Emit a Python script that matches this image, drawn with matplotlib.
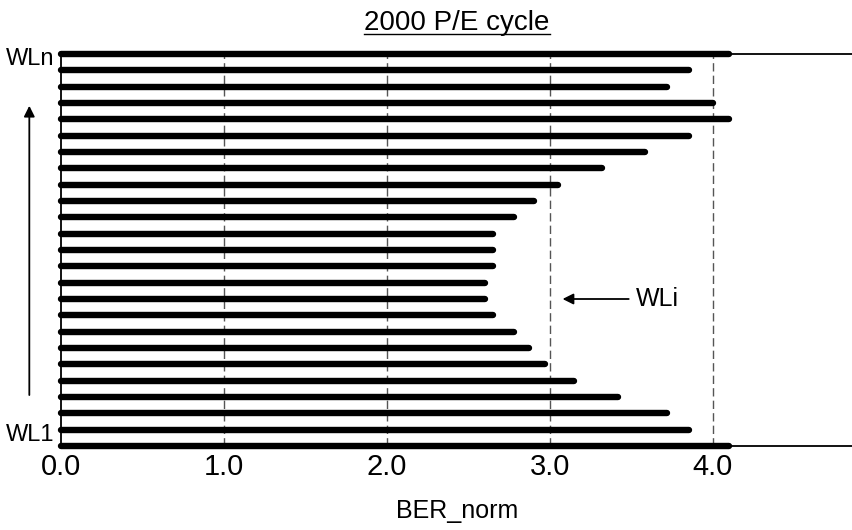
import numpy as np
import matplotlib
matplotlib.use("Agg")
import matplotlib.pyplot as plt
import matplotlib.transforms as mtransforms
from matplotlib.lines import Line2D

plt.rcParams['font.family'] = ['Liberation Sans', 'DejaVu Sans']

# word lines, bottom (WL1) to top (WLn)
wl_index = np.arange(1, 26)
ber_norm = [4.10, 3.85, 3.72, 3.42, 3.15, 2.97, 2.87, 2.78, 2.65, 2.60,
            2.60, 2.65, 2.65, 2.65, 2.78, 2.90, 3.05, 3.32, 3.58, 3.85,
            4.10, 4.00, 3.72, 3.85, 4.10]
x_ticks = [0.0, 1.0, 2.0, 3.0, 4.0]
x_tick_labels = ['0.0', '1.0', '2.0', '3.0', '4.0']
title = '2000 P/E cycle'
xlabel = 'BER_norm'


def main():
    fig = plt.figure(figsize=(8.53, 5.30), dpi=100)
    ax = fig.add_axes([61 / 853, 84 / 530, 792 / 853, 392 / 530])

    # 縦の破線
    for xv in x_ticks[1:]:
        ax.axvline(xv, color='#555555', lw=1.0, ls=(0, (6, 3)), zorder=1)

    # 上下端のバーも太さを保つため clip しない
    ax.hlines(wl_index, 0, ber_norm, color='black', lw=4.6,
              capstyle='round', zorder=3, clip_on=False)

    ax.set_xlim(0, 792 / 163)
    ax.set_ylim(1, 25)
    ax.spines['right'].set_visible(False)
    for s in ['left', 'top', 'bottom']:
        ax.spines[s].set_linewidth(1.3)
        ax.spines[s].set_color('black')

    ax.set_xticks(x_ticks)
    ax.set_xticklabels(x_tick_labels, fontsize=21)
    ax.tick_params(axis='x', length=0, pad=5)
    ax.set_yticks([])
    ax.set_xlabel(xlabel, fontsize=18, labelpad=13)

    # WL ラベルと矢印
    trans = mtransforms.blended_transform_factory(ax.transAxes, ax.transData)
    ax.text(-0.008, 24.7, 'WLn', transform=trans, ha='right', va='center', fontsize=17)
    ax.text(-0.008, 1.0, 'WL1', transform=trans, ha='right', va='bottom', fontsize=17)
    ax.annotate('', xy=(-0.040, 22.0), xycoords=trans,
                xytext=(-0.040, 3.95), textcoords=trans,
                arrowprops=dict(arrowstyle='-|>', color='black', lw=1.3,
                                mutation_scale=16),
                annotation_clip=False)

    # WLi
    ax.annotate('', xy=(3.06, 10), xytext=(3.50, 10),
                arrowprops=dict(arrowstyle='-|>', color='black', lw=1.3,
                                mutation_scale=16))
    ax.text(3.53, 10, 'WLi', ha='left', va='center', fontsize=18)

    # タイトル（下線付き）
    t = ax.set_title(title, fontsize=20, pad=17)
    fig.canvas.draw()
    bb = t.get_window_extent(renderer=fig.canvas.get_renderer())
    inv = fig.transFigure.inverted()
    (x0, y0), (x1, _) = inv.transform([[bb.x0, bb.y0], [bb.x1, bb.y1]])
    fig.add_artist(Line2D([x0, x1], [y0 + 0.004, y0 + 0.004],
                          transform=fig.transFigure, color='black', lw=1.0))

    fig.savefig('out.png', dpi=100)


if __name__ == "__main__":
    main()
